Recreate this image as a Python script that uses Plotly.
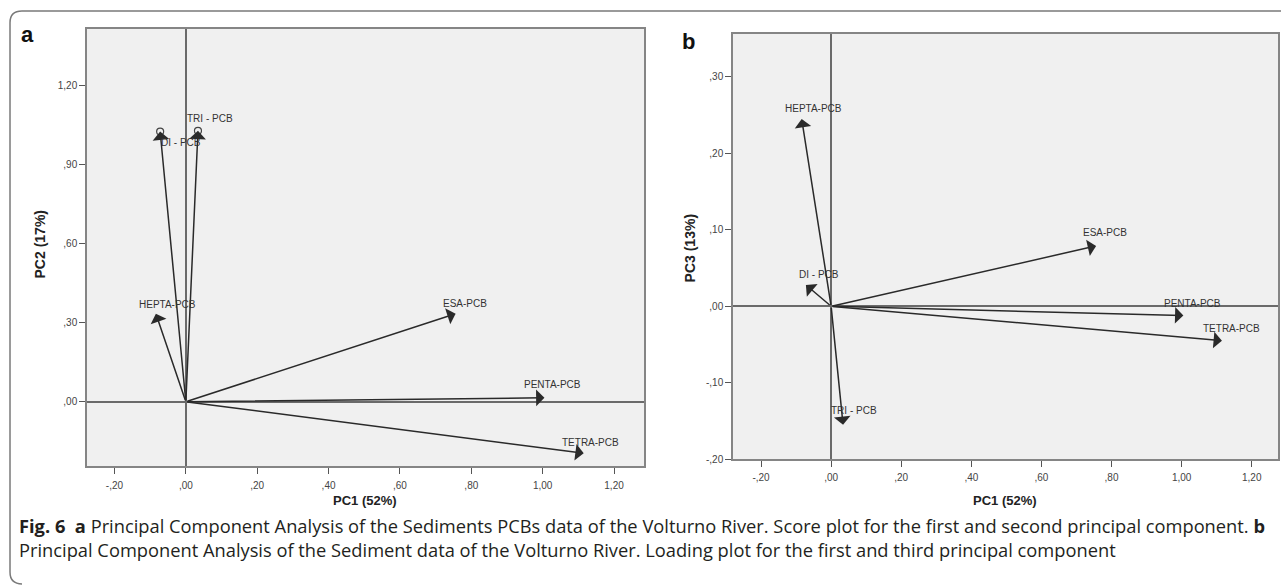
import plotly.graph_objects as go

W, H = 1281, 586

# ---------------- data ----------------
variables = ["DI - PCB", "TRI - PCB", "TETRA-PCB", "PENTA-PCB", "ESA-PCB", "HEPTA-PCB"]
pc1 = [-0.072, 0.034, 1.115, 1.005, 0.756, -0.084]
pc2 = [1.024, 1.027, -0.195, 0.015, 0.334, 0.334]
pc3 = [0.028, -0.155, -0.045, -0.012, 0.079, 0.245]
circled_a = ["DI - PCB", "TRI - PCB"]

x_tickvals = [-0.2, 0.0, 0.2, 0.4, 0.6, 0.8, 1.0, 1.2]
x_ticktext = ["-,20", ",00", ",20", ",40", ",60", ",80", "1,00", "1,20"]
ya_tickvals = [0.0, 0.3, 0.6, 0.9, 1.2]
ya_ticktext = [",00", ",30", ",60", ",90", "1,20"]
yb_tickvals = [-0.2, -0.1, 0.0, 0.1, 0.2, 0.3]
yb_ticktext = ["-,20", "-,10", ",00", ",10", ",20", ",30"]

x_title = "PC1 (52%)"
ya_title = "PC2 (17%)"
yb_title = "PC3 (13%)"
caption1 = ("<b>Fig. 6</b>  <b>a</b> Principal Component Analysis of the Sediments PCBs data of the "
            "Volturno River. Score plot for the first and second principal component. <b>b</b>")
caption2 = ("Principal Component Analysis of the Sediment data of the Volturno River. "
            "Loading plot for the first and third principal component")

# ---------------- styling / layout ----------------
# label offsets in px (dx right, dy up) relative to arrow tip
label_off_a = {"DI - PCB": (21, -11), "TRI - PCB": (12, 12), "TETRA-PCB": (7, 11),
               "PENTA-PCB": (8, 13), "ESA-PCB": (9, 10), "HEPTA-PCB": (12, 9)}
label_off_b = {"DI - PCB": (13, 10), "TRI - PCB": (11, 14), "TETRA-PCB": (10, 12),
               "PENTA-PCB": (9, 12), "ESA-PCB": (9, 13), "HEPTA-PCB": (12, 10)}

dom_a = dict(x=[87 / W, 644 / W], y=[1 - 471 / H, 1 - 29 / H])
dom_b = dict(x=[733 / W, 1278 / W], y=[1 - 464 / H, 1 - 34 / H])

ARROW = "#2a2a2a"
LBL_FONT = dict(family="Liberation Sans, Arial", size=10, color="#333333")
TICK_FONT = dict(family="Liberation Sans, Arial", size=10, color="#444444")
TITLE_FONT = dict(family="Liberation Sans, Arial", size=13, color="#222222")
CAP_FONT = dict(family="Open Sans", size=18.3, color="#231f20")

fig = go.Figure()

# invisible traces to establish axes
fig.add_trace(go.Scatter(x=pc1, y=pc2, mode="markers", marker=dict(opacity=0),
                         xaxis="x", yaxis="y", hoverinfo="skip", showlegend=False))
fig.add_trace(go.Scatter(x=pc1, y=pc3, mode="markers", marker=dict(opacity=0),
                         xaxis="x2", yaxis="y2", hoverinfo="skip", showlegend=False))

# circles at overlapping tips in panel a
cx = [pc1[variables.index(v)] for v in circled_a]
cy = [pc2[variables.index(v)] for v in circled_a]
fig.add_trace(go.Scatter(x=cx, y=cy, mode="markers",
                         marker=dict(symbol="circle-open", size=7, color="#444444",
                                     line=dict(width=1.2)),
                         xaxis="x", yaxis="y", hoverinfo="skip", showlegend=False))

annotations = []

def add_panel(xs, ys, xref, yref, offs):
    for v, xv, yv in zip(variables, xs, ys):
        annotations.append(dict(
            x=xv, y=yv, ax=0, ay=0, xref=xref, yref=yref, axref=xref, ayref=yref,
            text="", showarrow=True, arrowhead=1, arrowsize=1.85, arrowwidth=1.5,
            arrowcolor=ARROW, standoff=0, startstandoff=0))
        dx, dy = offs[v]
        annotations.append(dict(
            x=xv, y=yv, xref=xref, yref=yref, text=v, showarrow=False,
            xshift=dx, yshift=dy, font=LBL_FONT, xanchor="center", yanchor="middle"))

add_panel(pc1, pc2, "x", "y", label_off_a)
add_panel(pc1, pc3, "x2", "y2", label_off_b)

def px(x, y, **kw):
    d = dict(x=x / W, y=1 - y / H, xref="paper", yref="paper", showarrow=False,
             xanchor="center", yanchor="middle")
    d.update(kw)
    return d

annotations += [
    px(27, 35, text="<b>a</b>", font=dict(family="Liberation Sans, Arial", size=22, color="#111")),
    px(688, 42, text="<b>b</b>", font=dict(family="Liberation Sans, Arial", size=22, color="#111")),
    px(365, 506, text="<b>" + x_title + "</b>", font=TITLE_FONT),
    px(1005, 506, text="<b>" + x_title + "</b>", font=TITLE_FONT),
    px(40, 247, text="<b>" + ya_title + "</b>", font=dict(TITLE_FONT, size=14), textangle=-90),
    px(690, 251, text="<b>" + yb_title + "</b>", font=dict(TITLE_FONT, size=14), textangle=-90),
    px(17, 531, text=caption1, font=CAP_FONT, xanchor="left"),
    px(17, 555, text=caption2, font=CAP_FONT, xanchor="left"),
]

axis_common = dict(showgrid=False, zeroline=True, zerolinecolor="#6a6a6a", zerolinewidth=1.5,
                   showline=True, mirror=True, linecolor="#858585", linewidth=1.5,
                   ticks="outside", ticklen=6, tickcolor="#555555", tickwidth=1.2,
                   tickfont=TICK_FONT, fixedrange=True)

fig.update_layout(
    width=W, height=H, margin=dict(l=0, r=0, t=0, b=0),
    paper_bgcolor="white", plot_bgcolor="#f0f0f0", showlegend=False,
    xaxis=dict(axis_common, domain=dom_a["x"], range=[-0.277, 1.284], anchor="y",
               tickvals=x_tickvals, ticktext=x_ticktext, ticklabelstandoff=3),
    yaxis=dict(axis_common, domain=dom_a["y"], range=[-0.244, 1.414], anchor="x",
               tickvals=ya_tickvals, ticktext=ya_ticktext),
    xaxis2=dict(axis_common, domain=dom_b["x"], range=[-0.28, 1.275], anchor="y2",
                tickvals=x_tickvals, ticktext=x_ticktext, ticklabelstandoff=2),
    yaxis2=dict(axis_common, domain=dom_b["y"], range=[-0.2, 0.3566], anchor="x2",
                tickvals=yb_tickvals, ticktext=yb_ticktext),
    annotations=annotations,
)

# outer rounded frame (open on the right / bottom like the reference crop)
def P(x, y):
    return f"{x / W:.5f},{1 - y / H:.5f}"

L, T, R, B, r = 10, 11, 1300, 590, 12
path = (f"M{P(R, T)} L{P(L + r, T)} Q{P(L, T)} {P(L, T + r)} "
        f"L{P(L, B - r)} Q{P(L, B)} {P(L + r, B)}")
fig.add_shape(type="path", path=path, xref="paper", yref="paper",
              line=dict(color="#7a7a7a", width=1.5), layer="below")

fig.write_html("out.html")
